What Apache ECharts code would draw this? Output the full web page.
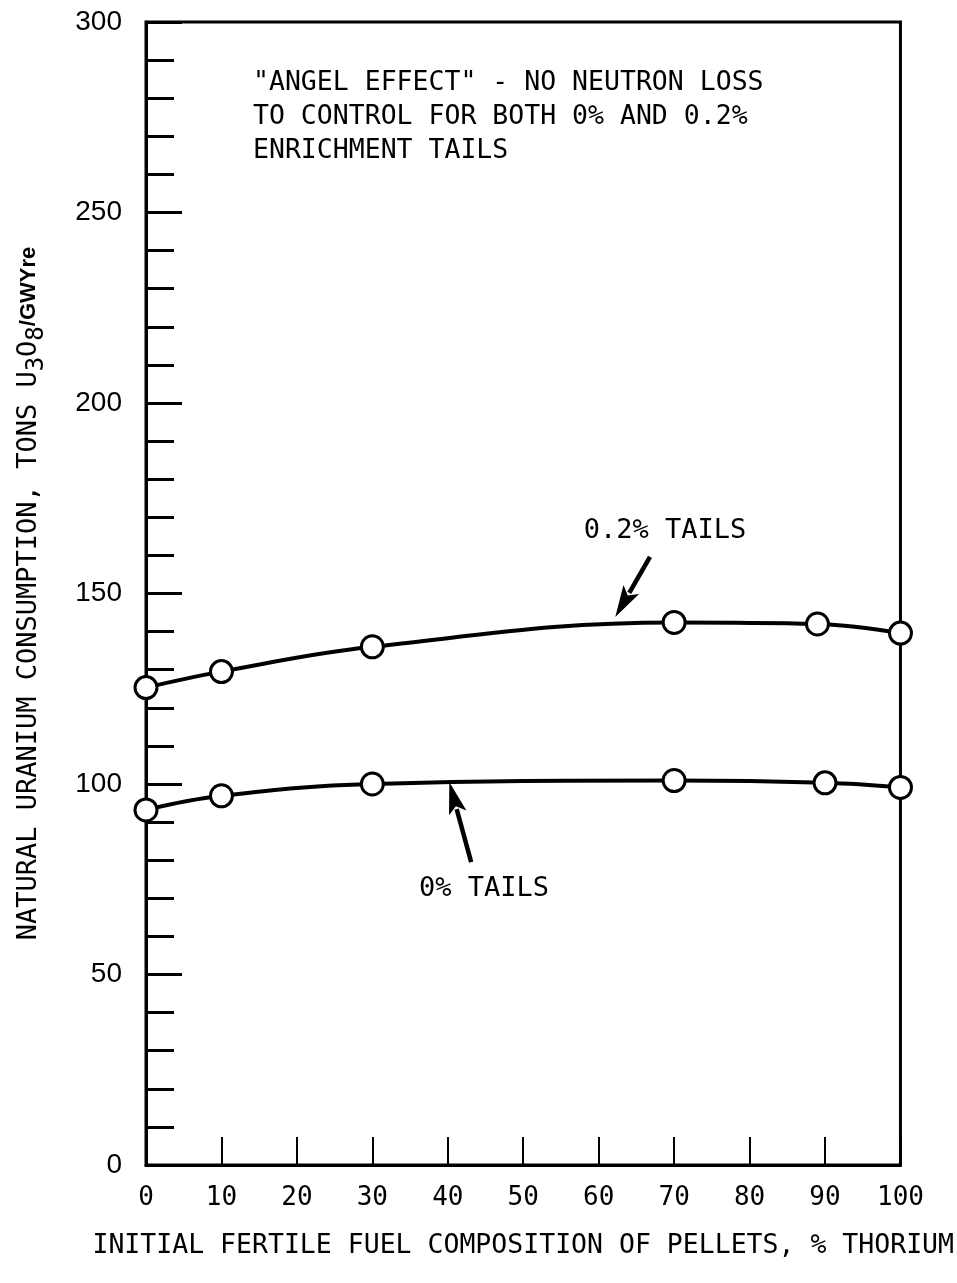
<!DOCTYPE html>
<html>
<head>
<meta charset="utf-8">
<script src="https://cdn.jsdelivr.net/npm/echarts@6/dist/echarts.min.js"></script>
<style>
html,body{margin:0;padding:0;background:#fff;}
#chart{width:957px;height:1283px;}
</style>
</head>
<body>
<div id="chart"></div>
<script>
// ---- data ----
const xTicks = [0, 10, 20, 30, 40, 50, 60, 70, 80, 90, 100];
const yTicks = [0, 50, 100, 150, 200, 250, 300];
const xUpper = [0, 10, 30, 70, 89, 100];
const tails02 = [125.3, 129.5, 136.0, 142.4, 142.0, 139.6];
const xLower = [0, 10, 30, 70, 90, 100];
const tails0 = [93.2, 96.9, 100.0, 100.9, 100.3, 99.1];
const noteLines = ['"ANGEL EFFECT" - NO NEUTRON LOSS', 'TO CONTROL FOR BOTH 0% AND 0.2%', 'ENRICHMENT TAILS'];
const label02 = '0.2% TAILS';
const label0 = '0% TAILS';
// annotation anchors in data coordinates
const label02At = [68.8, 166.5];
const arrow02 = [[66.8, 159.6], [62.2, 143.8]];
const label0At = [44.8, 72.5];
const arrow0 = [[43.1, 79.5], [40.2, 100.5]];

const MONO = '"DejaVu Sans Mono","Liberation Mono",monospace';
const REG = '"Liberation Sans","DejaVu Sans",sans-serif';

const chart = echarts.init(document.getElementById('chart'), null, {renderer: 'canvas'});
const zip = (xs, ys) => xs.map((x, i) => [x, ys[i]]);

const option = {
  backgroundColor: '#fff',
  animation: false,
  grid: {left: 146, right: 48, top: 22, bottom: 118, show: true, borderColor: '#000', borderWidth: 3, backgroundColor: 'transparent'},
  xAxis: {
    type: 'value', min: 0, max: 100, interval: 10,
    axisLine: {show: true, lineStyle: {color: '#000', width: 3}},
    axisTick: {show: true, inside: true, length: 28, lineStyle: {color: '#000', width: 2}},
    splitLine: {show: false},
    axisLabel: {color: '#000', fontFamily: MONO, fontSize: 26, margin: 20,
      formatter: v => xTicks.includes(v) ? String(v) : ''},
    name: 'INITIAL FERTILE FUEL COMPOSITION OF PELLETS, % THORIUM',
    nameLocation: 'middle', nameGap: 68,
    nameTextStyle: {color: '#000', fontFamily: MONO, fontSize: 26.5}
  },
  yAxis: {
    type: 'value', min: 0, max: 300, interval: 50,
    axisLine: {show: true, lineStyle: {color: '#000', width: 3}},
    axisTick: {show: true, inside: true, length: 36, lineStyle: {color: '#000', width: 3}},
    minorTick: {show: true, splitNumber: 5, length: 28, lineStyle: {color: '#000', width: 3}},
    splitLine: {show: false},
    axisLabel: {color: '#000', fontFamily: REG, fontSize: 28, margin: 24,
      formatter: v => yTicks.includes(v) ? String(v) : ''},
    name: '{t|NATURAL URANIUM CONSUMPTION, TONS U}{s|3}{t|O}{s|8}{u|/GWYre}',
    nameLocation: 'middle', nameGap: 97, nameRotate: 90,
    nameTextStyle: {
      color: '#000',
      rich: {
        t: {fontFamily: MONO, fontSize: 27, lineHeight: 40, verticalAlign: 'middle'},
        s: {fontFamily: MONO, fontSize: 24, lineHeight: 40, verticalAlign: 'bottom'},
        u: {fontFamily: REG, fontSize: 22, lineHeight: 40, verticalAlign: 'middle', fontWeight: 'bold'}
      }
    }
  },
  series: [
    {
      name: label02, type: 'line', data: zip(xUpper, tails02), smooth: 0.4,
      symbol: 'circle', symbolSize: 22,
      lineStyle: {color: '#000', width: 4},
      itemStyle: {color: '#fff', borderColor: '#000', borderWidth: 3}, z: 3
    },
    {
      name: label0, type: 'line', data: zip(xLower, tails0), smooth: 0.4,
      symbol: 'circle', symbolSize: 22,
      lineStyle: {color: '#000', width: 4},
      itemStyle: {color: '#fff', borderColor: '#000', borderWidth: 3}, z: 3
    }
  ]
};
chart.setOption(option);

function arrowGraphics(pair) {
  const a = chart.convertToPixel({gridIndex: 0}, pair[0]);
  const b = chart.convertToPixel({gridIndex: 0}, pair[1]);
  const dx = b[0] - a[0], dy = b[1] - a[1];
  const len = Math.sqrt(dx * dx + dy * dy);
  const ux = dx / len, uy = dy / len;
  const headLen = 32, headW = 9;
  const base = [b[0] - ux * headLen, b[1] - uy * headLen];
  const px = -uy, py = ux;
  return [
    {type: 'line', shape: {x1: a[0], y1: a[1], x2: base[0] + ux * 4, y2: base[1] + uy * 4}, style: {stroke: '#000', lineWidth: 4.5}, z: 10},
    {type: 'polygon', shape: {points: [[b[0], b[1]], [base[0] + px * headW, base[1] + py * headW], [base[0] + ux * 7, base[1] + uy * 7], [base[0] - px * headW, base[1] - py * headW]]}, style: {fill: '#000'}, z: 10}
  ];
}
const p02 = chart.convertToPixel({gridIndex: 0}, label02At);
const p0 = chart.convertToPixel({gridIndex: 0}, label0At);
const graphics = [
  {type: 'text', left: 253, top: 66, z: 10,
    style: {text: noteLines.join('\n'), fill: '#000', font: '26.5px ' + MONO, lineHeight: 34}},
  {type: 'text', x: p02[0], y: p02[1], z: 10,
    style: {text: label02, fill: '#000', font: '27px ' + MONO, textAlign: 'center', textVerticalAlign: 'middle'}},
  {type: 'text', x: p0[0], y: p0[1], z: 10,
    style: {text: label0, fill: '#000', font: '27px ' + MONO, textAlign: 'center', textVerticalAlign: 'middle'}}
].concat(arrowGraphics(arrow02), arrowGraphics(arrow0));
chart.setOption({graphic: graphics});
</script>
</body>
</html>
